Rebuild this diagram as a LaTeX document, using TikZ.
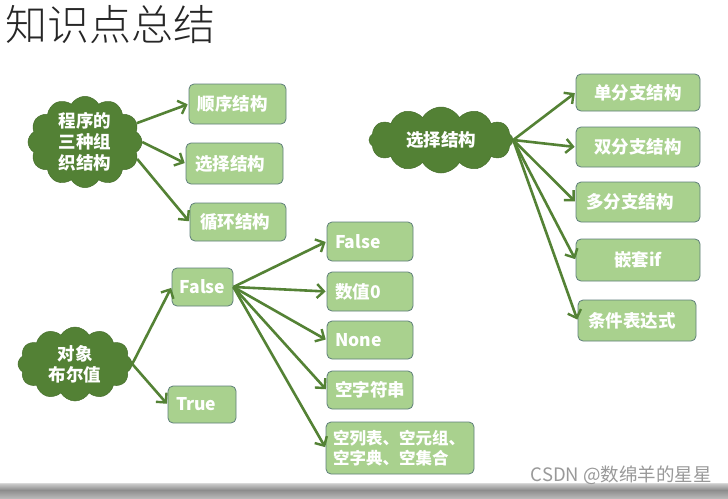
\documentclass[tikz,border=0pt]{standalone}
\usepackage{fontspec}
\usetikzlibrary{shapes.symbols,arrows.meta}
\newfontfamily\cjk{Noto Sans CJK SC}
\newfontfamily\cjklight{Noto Sans CJK SC Light}
\definecolor{boxfill}{HTML}{A9D18E}
\definecolor{boxline}{HTML}{5F7F7A}
\definecolor{cloudfill}{HTML}{538135}
\definecolor{cloudline}{HTML}{466F2C}
\definecolor{arrowc}{HTML}{548235}
\tikzset{
  box/.style={rectangle, rounded corners=5pt, fill=boxfill, draw=boxline, line width=0.8pt,
    text=white, font=\cjk\bfseries\fontsize{17.5}{20}\selectfont, inner ysep=0pt, inner xsep=0pt},
  lbox/.style={box, align=left},
  cbox/.style={box, align=center},
  cloudnode/.style={cloud, cloud puffs=12, cloud puff arc=120, cloud ignores aspect,
    fill=cloudfill, draw=cloudline, line width=0.5pt, inner sep=0pt,
    text=white, font=\cjk\bfseries\fontsize{17.5}{21}\selectfont, align=center},
  arr/.style={draw=arrowc, line width=2.6pt, -{Straight Barb[length=7pt,width=14pt,line width=2.4pt]}, shorten >=1pt}
}
\begin{document}
\begin{tikzpicture}[x=1pt,y=-1pt]
\useasboundingbox (0,0) rectangle (728,498);
\fill[white] (0,0) rectangle (728,498);
% title
\node[anchor=west, inner sep=0pt, text=black!85, font=\cjklight\fontsize{42}{46}\selectfont] (title) at (5,25) {知识点总结};
% cloud 1
\node[cloudnode, minimum width=114pt, minimum height=86pt] (c1) at (85,142) {程序的\\三种组\\织结构};
\node[lbox, minimum height=40pt, text width=80pt, inner xsep=8.5pt] (s1) at (237.5,104) {顺序结构};
\node[lbox, minimum height=41pt, text width=79pt, inner xsep=9pt] (s2) at (234.5,163.5) {选择结构};
\node[lbox, minimum height=38pt, text width=76pt, inner xsep=10pt] (s3) at (238,222) {循环结构};
\draw[arr] (c1.20) -- (s1.west);
\draw[arr] (c1.east) -- (s2.west);
\draw[arr] (c1.-18) -- (s3.west);
% cloud 2
\node[cloudnode, minimum width=114pt, minimum height=74pt] (c2) at (75,364) {对象\\布尔值};
\node[cbox, minimum height=38pt, minimum width=61pt] (fa) at (202.5,287) {False};
\node[lbox, minimum height=37pt, text width=52pt, inner xsep=8pt] (tr) at (202,404.5) {True};
\draw[arr] (c2.east) -- (fa.west);
\draw[arr] (c2.east) -- (tr.west);
\node[lbox, minimum height=39pt, text width=70pt, inner xsep=8pt] (f1) at (370,241.5) {False};
\node[lbox, minimum height=39pt, text width=70pt, inner xsep=8pt] (f2) at (370,291.5) {数值0};
\node[lbox, minimum height=38pt, text width=70pt, inner xsep=8pt] (f3) at (370,340) {None};
\node[lbox, minimum height=38pt, text width=70pt, inner xsep=8pt] (f4) at (370,390) {空字符串};
\node[lbox, minimum height=52pt, text width=134pt, inner xsep=7pt, font=\cjk\bfseries\fontsize{16.5}{20}\selectfont] (f5) at (400,448) {空列表、空元组、\\空字典、空集合};
\foreach \t in {f1,f2,f3,f4,f5} \draw[arr] (fa.east) -- (\t.west);
% cloud 3
\node[cloudnode, minimum width=144pt, minimum height=66pt] (c3) at (441,140) {选择结构};
\node[cbox, minimum height=37pt, minimum width=124pt] (r1) at (638,92.5) {单分支结构};
\node[cbox, minimum height=40pt, minimum width=124pt] (r2) at (638,147) {双分支结构};
\node[lbox, minimum height=40pt, text width=104pt, inner xsep=10pt] (r3) at (638,202) {多分支结构};
\node[cbox, minimum height=42pt, minimum width=124pt] (r4) at (638,260) {嵌套if};
\node[lbox, minimum height=41pt, text width=98pt, inner xsep=10pt] (r5) at (637,320.5) {条件表达式};
\foreach \t in {r1,r2,r3,r4,r5} \draw[arr] (c3.east) -- (\t.west);
% bottom bar
\fill[top color=black!18, bottom color=black!45] (0,483) rectangle (728,490);
\fill[top color=black!45, bottom color=black!28] (0,490) rectangle (728,498);
\draw[black!15, line width=1pt] (0,483.5) -- (728,483.5);
% watermark
\node[anchor=base east, inner sep=0pt, text=black!40, font=\cjk\fontsize{18.5}{20}\selectfont] (wm) at (712,481) {CSDN @数绵羊的星星};
\end{tikzpicture}
\end{document}
